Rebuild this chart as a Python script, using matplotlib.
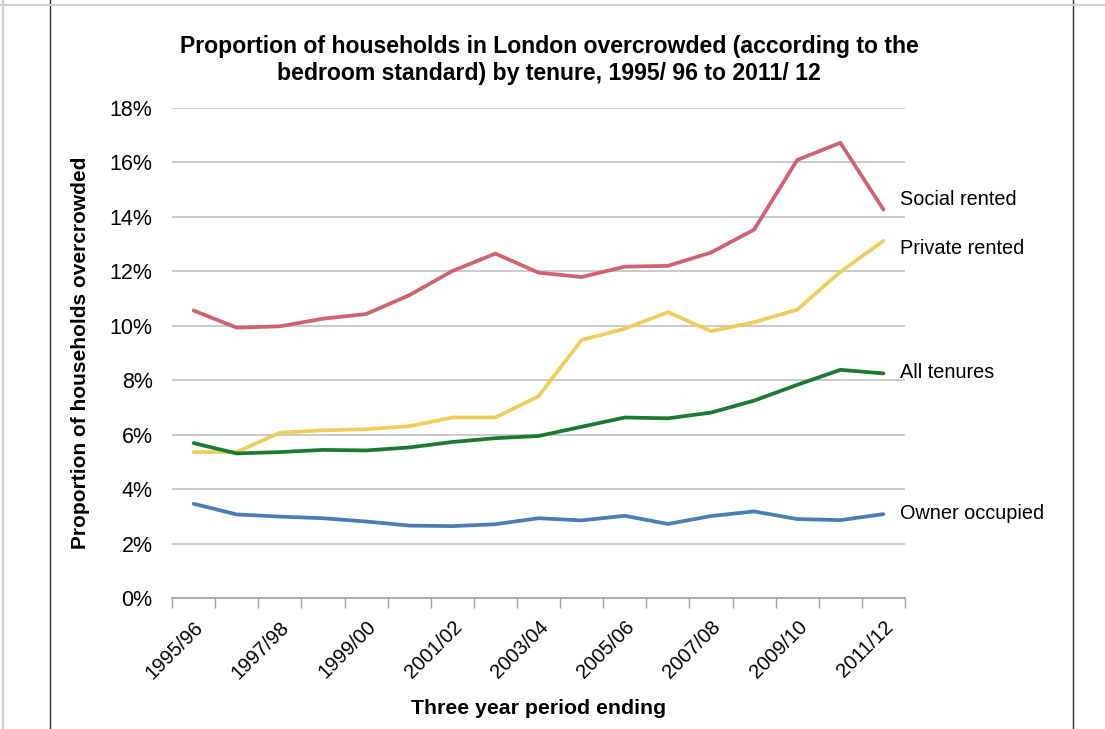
import numpy as np
import matplotlib.pyplot as plt
from matplotlib.lines import Line2D

plt.rcParams['font.family'] = ['Liberation Sans', 'DejaVu Sans']

# three year periods ending
periods = ['1995/96', '1996/97', '1997/98', '1998/99', '1999/00', '2000/01',
           '2001/02', '2002/03', '2003/04', '2004/05', '2005/06', '2006/07',
           '2007/08', '2008/09', '2009/10', '2010/11', '2011/12']

# percent overcrowded
social_rented = [10.56, 9.93, 9.98, 10.26, 10.43, 11.12, 12.01, 12.65, 11.95,
                 11.79, 12.17, 12.20, 12.69, 13.53, 16.09, 16.72, 14.27]
private_rented = [5.36, 5.36, 6.07, 6.16, 6.20, 6.31, 6.63, 6.63, 7.41,
                  9.48, 9.89, 10.50, 9.80, 10.13, 10.59, 11.98, 13.12]
all_tenures = [5.69, 5.31, 5.36, 5.44, 5.42, 5.53, 5.73, 5.87, 5.95,
               6.29, 6.63, 6.60, 6.81, 7.25, 7.83, 8.38, 8.25]
owner_occupied = [3.46, 3.07, 2.99, 2.93, 2.81, 2.66, 2.64, 2.71, 2.93,
                  2.85, 3.02, 2.72, 3.01, 3.18, 2.90, 2.86, 3.08]

fig = plt.figure(figsize=(11.05, 7.29), dpi=100)
ax = fig.add_axes([0.1557, 0.1797, 0.6633, 0.6722])

x = np.arange(len(periods))
lw = 2.7
ax.plot(x, social_rented, color='#d0616f', lw=lw, solid_capstyle='round')
ax.plot(x, private_rented, color='#eecd5a', lw=lw, solid_capstyle='round')
ax.plot(x, all_tenures, color='#1a7a33', lw=lw, solid_capstyle='round')
ax.plot(x, owner_occupied, color='#4a7cb6', lw=lw, solid_capstyle='round')

# series labels at the right end
lab = dict(fontsize=14.3, va='center', ha='left', textcoords='offset points',
           annotation_clip=False)
ax.annotate('Social rented', xy=(16, 14.63), xytext=(12, 0), **lab)
ax.annotate('Private rented', xy=(16, 12.83), xytext=(12, 0), **lab)
ax.annotate('All tenures', xy=(16, 8.27), xytext=(12, 0), **lab)
ax.annotate('Owner occupied', xy=(16, 3.09), xytext=(12, 0), **lab)

ax.set_xlim(-0.5, len(periods) - 0.5)
ax.set_ylim(0, 18)
ax.set_yticks(np.arange(0, 19, 2))
ax.set_yticklabels(['%d%%' % v for v in range(0, 19, 2)], fontsize=15.5)
ax.yaxis.grid(True, color='#c6c6c6', lw=1.3)
ax.set_axisbelow(True)
ax.tick_params(axis='y', length=0, pad=14)

ax.set_xticks(x[::2])
ax.set_xticklabels(periods[::2], rotation=45, ha='right',
                   rotation_mode='anchor', fontsize=14.5)
ax.set_xticks(np.arange(-0.5, len(periods)), minor=True)
ax.tick_params(axis='x', which='major', length=0, pad=14)
ax.tick_params(axis='x', which='minor', length=7, color='#a0a0a0', width=1)

for s in ['top', 'right', 'left']:
    ax.spines[s].set_visible(False)
ax.spines['bottom'].set_color('#a0a0a0')
ax.spines['bottom'].set_linewidth(1.2)

ax.set_ylabel('Proportion of households overcrowded', fontsize=15,
              fontweight='bold', va='center')
ax.yaxis.set_label_coords(-0.1255, 0.5)
ax.set_xlabel('Three year period ending', fontsize=15.3, fontweight='bold',
              va='center')
ax.xaxis.set_label_coords(0.5, -0.2245)

fig.text(0.497, 0.918,
         'Proportion of households in London overcrowded (according to the\n'
         'bedroom standard) by tenure, 1995/ 96 to 2011/ 12',
         ha='center', va='center', fontsize=16.6, fontweight='bold',
         linespacing=1.25)

# frame lines of the original page
fig.add_artist(Line2D([50 / 1105, 50 / 1105], [0, 1], color='#303030', lw=1))
fig.add_artist(Line2D([1073 / 1105, 1073 / 1105], [0, 1], color='#303030', lw=1))
fig.add_artist(Line2D([3 / 1105, 3 / 1105], [0, 1], color='#d0d0d0', lw=1.5))
fig.add_artist(Line2D([0, 1], [1 - 5 / 729, 1 - 5 / 729], color='#d0d0d0', lw=1.5))

fig.savefig('out.png', dpi=100)
